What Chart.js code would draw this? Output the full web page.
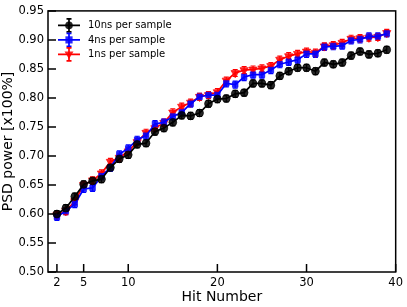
<!DOCTYPE html>
<html>
<head>
<meta charset="utf-8">
<script src="https://cdn.jsdelivr.net/npm/chart.js@4.4.0/dist/chart.umd.min.js"></script>
<style>
  html, body { margin: 0; padding: 0; background: #fff; }
  #wrap { width: 407px; height: 307px; }
</style>
</head>
<body>
<div id="wrap"><canvas id="psdChart" width="407" height="307"></canvas></div>
<script>
const hits = [2, 3, 4, 5, 6, 7, 8, 9, 10, 11, 12, 13, 14, 15, 16, 17, 18, 19, 20,
  21, 22, 23, 24, 25, 26, 27, 28, 29, 30, 31, 32, 33, 34, 35, 36, 37, 38, 39];

const psd10ns = [0.600, 0.610, 0.630, 0.651, 0.657, 0.660, 0.680, 0.695, 0.702, 0.720,
  0.722, 0.742, 0.748, 0.758, 0.770, 0.769, 0.774, 0.790, 0.798, 0.799,
  0.807, 0.809, 0.825, 0.825, 0.822, 0.838, 0.846, 0.852, 0.852, 0.846,
  0.861, 0.858, 0.861, 0.873, 0.880, 0.875, 0.877, 0.883];

const psd4ns = [0.595, 0.605, 0.617, 0.643, 0.645, 0.665, 0.680, 0.703, 0.713, 0.728,
  0.735, 0.755, 0.758, 0.768, 0.775, 0.790, 0.802, 0.805, 0.805, 0.825,
  0.823, 0.836, 0.840, 0.840, 0.848, 0.858, 0.862, 0.866, 0.876, 0.876,
  0.888, 0.889, 0.890, 0.899, 0.901, 0.906, 0.906, 0.911];

const psd1ns = [0.598, 0.605, 0.622, 0.650, 0.658, 0.670, 0.690, 0.697, 0.708, 0.724,
  0.740, 0.748, 0.757, 0.775, 0.785, 0.792, 0.802, 0.805, 0.810, 0.830,
  0.843, 0.848, 0.849, 0.851, 0.855, 0.866, 0.872, 0.876, 0.880, 0.878,
  0.889, 0.891, 0.895, 0.902, 0.903, 0.904, 0.905, 0.912];

// statistical error on each point (same for every hit)
const psdErr = 0.006;

const seriesLabels = ["10ns per sample", "4ns per sample", "1ns per sample"];
const xTicks = [2, 5, 10, 20, 30, 40];
const yTicks = [0.50, 0.55, 0.60, 0.65, 0.70, 0.75, 0.80, 0.85, 0.90, 0.95];

const FONT = "DejaVu Sans";

function toPoints(values) {
  return hits.map((h, i) => ({ x: h, y: values[i] }));
}

function makeSet(label, values, color, fill, style) {
  return {
    label: label,
    data: toPoints(values),
    borderColor: color,
    backgroundColor: fill,
    borderWidth: 1.7,
    pointStyle: style,
    pointRotation: style === "triangle" ? 180 : 0,
    pointRadius: style === "triangle" ? 4.8 : 3.9,
    pointBorderWidth: 0.8,
    pointBorderColor: fill,
    tension: 0,
  };
}

function marker(ctx, style, x, y, fill) {
  ctx.fillStyle = fill;
  ctx.beginPath();
  if (style === "circle") {
    ctx.arc(x, y, 3.8, 0, Math.PI * 2);
  } else if (style === "rect") {
    ctx.rect(x - 3.6, y - 3.6, 7.2, 7.2);
  } else {
    ctx.moveTo(x - 4.5, y - 3);
    ctx.lineTo(x + 4.5, y - 3);
    ctx.lineTo(x, y + 4.6);
    ctx.closePath();
  }
  ctx.fill();
}

// error bars, frame, inward ticks and the legend
const decorations = {
  id: "decorations",
  beforeDatasetsDraw(chart) {
    const ctx = chart.ctx;
    const xs = chart.scales.x, ys = chart.scales.y;
    ctx.save();
    chart.data.datasets.forEach((ds) => {
      ctx.strokeStyle = ds.borderColor;
      ctx.lineWidth = 1.2;
      ds.data.forEach((p) => {
        const px = xs.getPixelForValue(p.x);
        const top = ys.getPixelForValue(p.y + psdErr);
        const bot = ys.getPixelForValue(p.y - psdErr);
        ctx.beginPath();
        ctx.moveTo(px, top); ctx.lineTo(px, bot);
        ctx.moveTo(px - 2.5, top); ctx.lineTo(px + 2.5, top);
        ctx.moveTo(px - 2.5, bot); ctx.lineTo(px + 2.5, bot);
        ctx.stroke();
      });
    });
    ctx.restore();
  },
  afterDraw(chart) {
    const ctx = chart.ctx;
    const a = chart.chartArea;
    const xs = chart.scales.x, ys = chart.scales.y;
    ctx.save();
    ctx.strokeStyle = "#000";
    ctx.lineWidth = 1.5;
    ctx.strokeRect(a.left, a.top, a.right - a.left, a.bottom - a.top);
    ctx.beginPath();
    yTicks.forEach((v) => {
      const py = ys.getPixelForValue(v);
      ctx.moveTo(a.left, py); ctx.lineTo(a.left + 8, py);
    });
    xTicks.forEach((v) => {
      const px = xs.getPixelForValue(v);
      ctx.moveTo(px, a.bottom); ctx.lineTo(px, a.bottom - 8);
    });
    ctx.stroke();

    // legend
    ctx.font = "10px '" + FONT + "'";
    ctx.textBaseline = "middle";
    chart.data.datasets.forEach((ds, i) => {
      const ly = a.top + 14.5 + i * 14.5;
      const x0 = a.left + 10, x1 = a.left + 32, xm = (x0 + x1) / 2;
      ctx.strokeStyle = ds.borderColor;
      ctx.lineWidth = 1.7;
      ctx.beginPath();
      ctx.moveTo(x0, ly); ctx.lineTo(x1, ly);
      ctx.moveTo(xm, ly - 6.5); ctx.lineTo(xm, ly + 6.5);
      ctx.moveTo(xm - 2.5, ly - 6.5); ctx.lineTo(xm + 2.5, ly - 6.5);
      ctx.moveTo(xm - 2.5, ly + 6.5); ctx.lineTo(xm + 2.5, ly + 6.5);
      ctx.stroke();
      marker(ctx, ds.pointStyle, xm, ly, ds.backgroundColor);
      ctx.fillStyle = "#000";
      ctx.fillText(ds.label, a.left + 40, ly + 0.5);
    });
    ctx.restore();
  },
};

new Chart(document.getElementById("psdChart"), {
  type: "line",
  data: {
    datasets: [
      makeSet(seriesLabels[0], psd10ns, "#000000", "rgba(0,0,0,0.85)", "circle"),
      makeSet(seriesLabels[1], psd4ns, "#0000ff", "rgba(0,0,255,0.85)", "rect"),
      makeSet(seriesLabels[2], psd1ns, "#ff0000", "rgba(255,0,0,0.85)", "triangle"),
    ],
  },
  options: {
    responsive: false,
    animation: false,
    layout: { padding: { top: 8, right: 11, left: 0, bottom: 0 } },
    plugins: {
      legend: { display: false },
      tooltip: { enabled: false },
    },
    scales: {
      x: {
        type: "linear",
        min: 1,
        max: 40,
        afterBuildTicks: (scale) => { scale.ticks = xTicks.map((v) => ({ value: v })); },
        afterFit: (scale) => { scale.height = 35; },
        grid: { display: false, drawTicks: false },
        border: { display: false },
        ticks: {
          color: "#000",
          padding: 4,
          maxRotation: 0,
          autoSkip: false,
          font: { family: FONT, size: 11.5 },
        },
        title: {
          display: true,
          text: "Hit Number",
          color: "#000",
          padding: { top: 0, bottom: 1 },
          font: { family: FONT, size: 14 },
        },
      },
      y: {
        min: 0.5,
        max: 0.95,
        afterBuildTicks: (scale) => { scale.ticks = yTicks.map((v) => ({ value: v })); },
        afterFit: (scale) => { scale.width = 48; },
        grid: { display: false, drawTicks: false },
        border: { display: false },
        ticks: {
          color: "#000",
          padding: 4,
          autoSkip: false,
          font: { family: FONT, size: 11.5 },
          callback: (v) => v.toFixed(2),
        },
        title: {
          display: true,
          text: "PSD power [x100%]",
          color: "#000",
          padding: { top: 0, bottom: 0 },
          font: { family: FONT, size: 14 },
        },
      },
    },
  },
  plugins: [decorations],
});
</script>
</body>
</html>
